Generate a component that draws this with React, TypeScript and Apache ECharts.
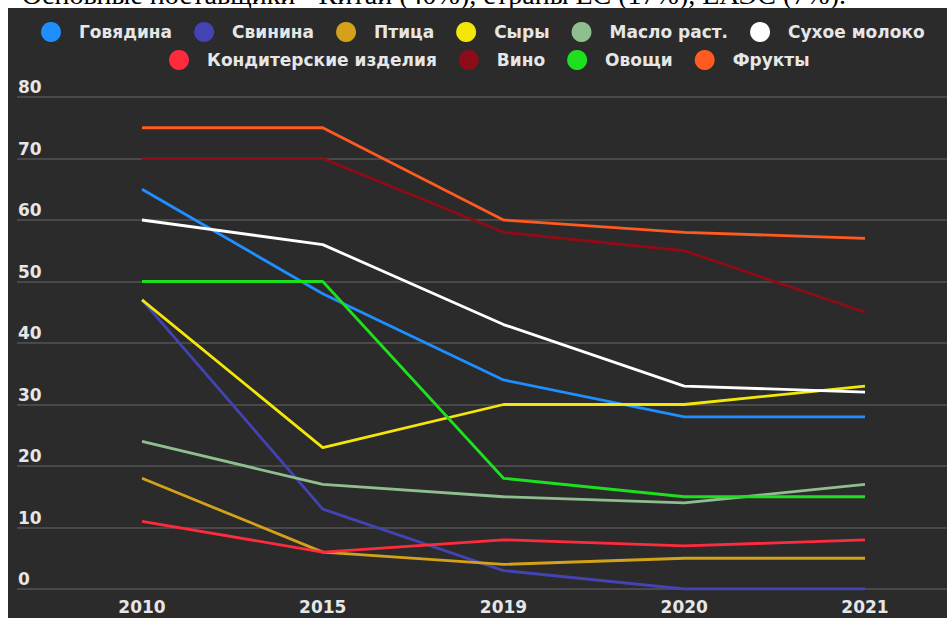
import React, { useEffect, useRef } from "react";
import * as echarts from "echarts";

const years = ["2010", "2015", "2019", "2020", "2021"];
const yTicks = [0, 10, 20, 30, 40, 50, 60, 70, 80];

const names = [
  "Говядина",
  "Свинина",
  "Птица",
  "Сыры",
  "Масло раст.",
  "Сухое молоко",
  "Кондитерские изделия",
  "Вино",
  "Овощи",
  "Фрукты",
];
const colors = [
  "#1f8fff",
  "#4343b3",
  "#d4a21a",
  "#f5e60a",
  "#8fbf8f",
  "#ffffff",
  "#ff2b3d",
  "#8e0c18",
  "#1fe01f",
  "#ff5a1f",
];

const beef = [65, 48, 34, 28, 28];
const pork = [47, 13, 3, 0, 0];
const poultry = [18, 6, 4, 5, 5];
const cheese = [47, 23, 30, 30, 33];
const vegOil = [24, 17, 15, 14, 17];
const milkPowder = [60, 56, 43, 33, 32];
const confectionery = [11, 6, 8, 7, 8];
const wine = [70, 70, 58, 55, 45];
const vegetables = [50, 50, 18, 15, 15];
const fruits = [75, 75, 60, 58, 57];

const seriesValues = [
  beef,
  pork,
  poultry,
  cheese,
  vegOil,
  milkPowder,
  confectionery,
  wine,
  vegetables,
  fruits,
];

const headline = "Основные поставщики - Китай (40%), страны ЕС (17%), ЕАЭС (7%).";

export default function App() {
  const ref = useRef<HTMLDivElement>(null);

  useEffect(() => {
    if (!ref.current) return;
    const chart = echarts.init(ref.current, null, { renderer: "svg" });
    const font = "'DejaVu Sans', sans-serif";
    const legendText = {
      color: "#e6e6e6",
      fontSize: 17,
      fontWeight: "bold" as const,
      fontFamily: font,
      lineHeight: 20,
    };
    chart.setOption({
      animation: false,
      backgroundColor: "#2b2b2b",
      color: colors,
      legend: [
        {
          data: names.slice(0, 6),
          left: 33,
          top: 14,
          icon: "circle",
          itemWidth: 46,
          itemHeight: 20,
          itemGap: 22,
          padding: 0,
          textStyle: legendText,
        },
        {
          data: names.slice(6),
          left: 161,
          top: 42,
          icon: "circle",
          itemWidth: 46,
          itemHeight: 20,
          itemGap: 22,
          padding: 0,
          textStyle: legendText,
        },
      ],
      grid: [
        { left: 9, right: 0, top: 89, bottom: 29 },
        { left: 134, right: 82, top: 89, bottom: 29 },
      ],
      xAxis: [
        { type: "value", gridIndex: 0, show: false, min: 0, max: 1 },
        {
          type: "category",
          gridIndex: 1,
          data: years,
          boundaryGap: false,
          axisLine: { show: false },
          axisTick: { show: false },
          axisLabel: {
            margin: 9,
            color: "#e6e6e6",
            fontSize: 17,
            fontWeight: "bold",
            fontFamily: font,
          },
        },
      ],
      yAxis: [
        {
          type: "value",
          gridIndex: 0,
          min: yTicks[0],
          max: yTicks[yTicks.length - 1],
          interval: 10,
          axisLine: { show: false },
          axisTick: { show: false },
          axisLabel: {
            inside: true,
            margin: 1,
            verticalAlign: "bottom",
            lineHeight: 20,
            color: "#e6e6e6",
            fontSize: 17,
            fontWeight: "bold",
            fontFamily: font,
          },
          splitLine: { lineStyle: { color: "#555555", width: 1.5 } },
        },
        {
          type: "value",
          gridIndex: 1,
          min: yTicks[0],
          max: yTicks[yTicks.length - 1],
          interval: 10,
          show: false,
          splitLine: { show: false },
        },
      ],
      series: names.map((name, i) => ({
        name,
        type: "line",
        xAxisIndex: 1,
        yAxisIndex: 1,
        data: seriesValues[i],
        showSymbol: false,
        symbol: "none",
        lineStyle: { width: 2.8, color: colors[i] },
        itemStyle: { color: colors[i] },
      })),
    });
    return () => chart.dispose();
  }, []);

  return (
    <div
      style={{
        position: "fixed",
        left: 0,
        top: 0,
        width: 952,
        height: 618,
        background: "#ffffff",
        overflow: "hidden",
      }}
    >
      <div
        style={{
          position: "absolute",
          right: 106,
          top: -19,
          fontFamily: "'Liberation Serif', serif",
          fontSize: 28,
          lineHeight: "28px",
          whiteSpace: "nowrap",
          color: "#000",
        }}
      >
        {headline}
      </div>
      <div
        ref={ref}
        style={{
          position: "absolute",
          left: 8,
          top: 8,
          width: 939,
          height: 610,
        }}
      />
    </div>
  );
}
